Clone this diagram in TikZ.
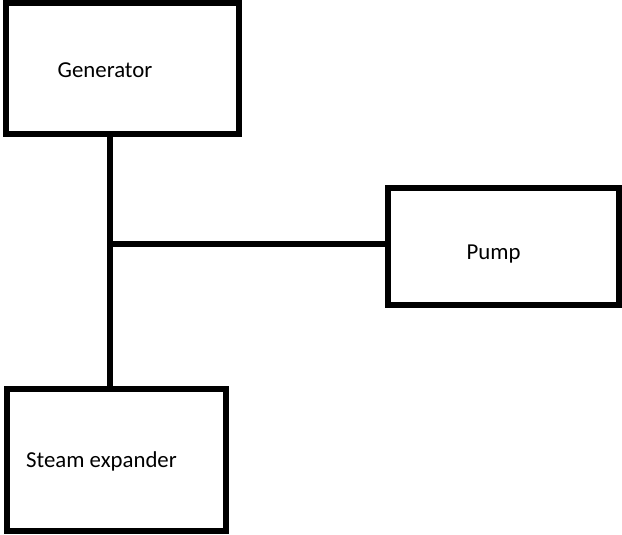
\documentclass[tikz,border=0pt]{standalone}
\usepackage{fontspec}
\setmainfont{Carlito}
\tikzset{
  blockbox/.style={draw=black, line width=6pt, fill=white, rectangle, inner sep=0pt, outer sep=0pt},
  wire/.style={draw=black, line width=6pt},
  lbl/.style={anchor=base, inner sep=0pt, font=\fontsize{22.8}{26}\selectfont}
}
\begin{document}
\begin{tikzpicture}[x=1pt, y=-1pt]
\useasboundingbox (0,0) rectangle (622,535);
\node[blockbox, minimum width=233pt, minimum height=131pt] (gen) at (122.5,68.5) {};
\node[blockbox, minimum width=231pt, minimum height=116.5pt] (pump) at (503.5,246.25) {};
\node[blockbox, minimum width=219pt, minimum height=142.5pt] (steam) at (116,459.75) {};
\coordinate (j) at (110,244);
\draw[wire] (j |- gen.south) -- (j |- steam.north);
\draw[wire] (j) -- (pump.west |- j);
\node[lbl] (tgen) at (105,77.5) {Generator};
\node[lbl] (tpump) at (493.5,259.5) {Pump};
\node[lbl] (tsteam) at (101.5,467) {Steam expander};
\end{tikzpicture}
\end{document}
